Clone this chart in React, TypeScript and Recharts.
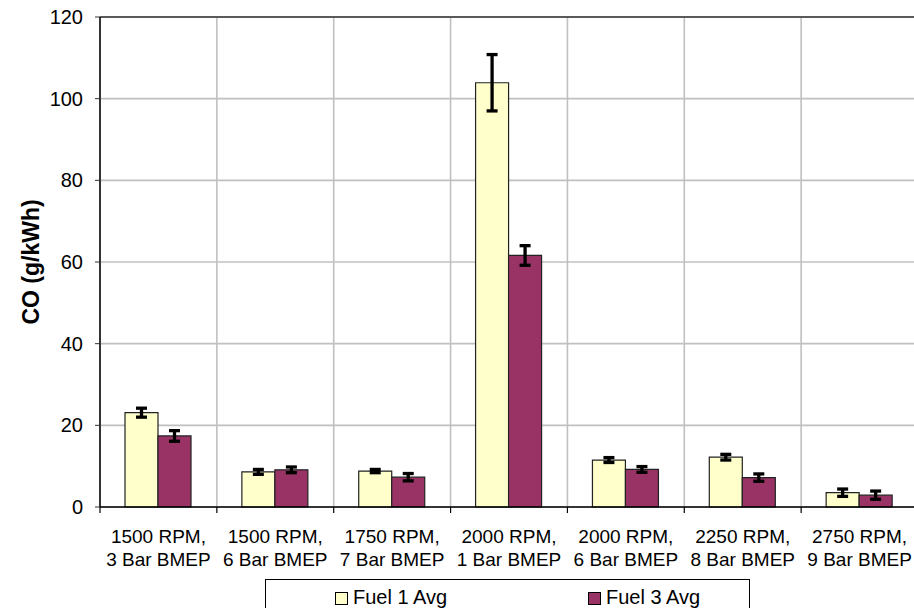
import React from 'react';
import { BarChart, Bar, XAxis, YAxis, CartesianGrid, ErrorBar, ReferenceLine } from 'recharts';

const catLine1 = ['1500 RPM,', '1500 RPM,', '1750 RPM,', '2000 RPM,', '2000 RPM,', '2250 RPM,', '2750 RPM,'];
const catLine2 = ['3 Bar BMEP', '6 Bar BMEP', '7 Bar BMEP', '1 Bar BMEP', '6 Bar BMEP', '8 Bar BMEP', '9 Bar BMEP'];
const fuel1Avg = [23.1, 8.6, 8.8, 103.9, 11.5, 12.2, 3.5];
const fuel1Err = [1.1, 0.6, 0.4, 6.9, 0.6, 0.7, 0.9];
const fuel3Avg = [17.4, 9.1, 7.3, 61.6, 9.2, 7.2, 2.9];
const fuel3Err = [1.3, 0.7, 0.9, 2.4, 0.7, 0.9, 1.0];
const yTicks = [0, 20, 40, 60, 80, 100, 120];
const seriesNames = ['Fuel 1 Avg', 'Fuel 3 Avg'];
const seriesColors = ['#FFFFCC', '#993366'];
const yLabel = 'CO (g/kWh)';

const data = catLine1.map((c, i) => ({
  cat: `${c} ${catLine2[i]}`,
  l1: c,
  l2: catLine2[i],
  f1: fuel1Avg[i],
  e1: fuel1Err[i],
  f3: fuel3Avg[i],
  e3: fuel3Err[i],
}));

const FONT = '"Liberation Sans", Arial, sans-serif';
const N = data.length;

const XTick = (props: any) => {
  const { x, y, payload, index } = props;
  const half = payload && payload.offset ? payload.offset : 58.4;
  const d = data[index] || data[0];
  return (
    <g>
      <line x1={x - half} y1={y} x2={x - half} y2={y + 6} stroke="#000" strokeWidth={1.2} />
      {index === N - 1 && (
        <line x1={x + half} y1={y} x2={x + half} y2={y + 6} stroke="#000" strokeWidth={1.2} />
      )}
      <text x={x} y={y} textAnchor="middle" fontSize={19} fontFamily={FONT} fill="#000">
        <tspan x={x} dy={35.5}>{d.l1}</tspan>
        <tspan x={x} dy={23}>{d.l2}</tspan>
      </text>
    </g>
  );
};

const YLabel = (props: any) => {
  const vb = props.viewBox || { x: 0, y: 17, width: 100, height: 490 };
  const cx = vb.x + 31;
  const cy = vb.y + vb.height / 2;
  return (
    <text
      x={cx}
      y={cy}
      transform={`rotate(-90 ${cx} ${cy})`}
      textAnchor="middle"
      dominantBaseline="central"
      fontSize={23}
      fontWeight="bold"
      fontFamily={FONT}
      fill="#000"
    >
      {yLabel}
    </text>
  );
};

const LegendBox = () => (
  <div
    style={{
      position: 'absolute',
      left: 265,
      top: 579,
      width: 485,
      height: 44,
      border: '1px solid #000',
      boxSizing: 'border-box',
      background: '#fff',
      fontFamily: FONT,
      fontSize: 20,
      color: '#000',
    }}
  >
    {seriesNames.map((name, i) => (
      <div
        key={name}
        style={{ position: 'absolute', left: i === 0 ? 69 : 322, top: 7, display: 'flex', alignItems: 'center', lineHeight: '20px', whiteSpace: 'nowrap' }}
      >
        <span
          style={{
            display: 'inline-block',
            width: 13,
            height: 13,
            background: seriesColors[i],
            border: '1px solid #000',
            boxSizing: 'border-box',
            marginRight: 5,
            marginTop: 2,
          }}
        />
        <span>{name}</span>
      </div>
    ))}
  </div>
);

export default function App() {
  return (
    <div style={{ position: 'absolute', left: 0, top: 0, width: 914, height: 608, overflow: 'hidden', background: '#fff', fontFamily: FONT }}>
      <BarChart
        width={920}
        height={608}
        data={data}
        margin={{ top: 17, right: 2, bottom: 0, left: 0 }}
        barCategoryGap="21.4%"
        barGap={0}
      >
        <CartesianGrid
          stroke="#C0C0C0"
          strokeWidth={1.6}
          verticalCoordinatesGenerator={({ offset }: any) =>
            Array.from({ length: N + 1 }, (_, i) => offset.left + (i * offset.width) / N)
          }
        />
        <XAxis
          dataKey="cat"
          interval={0}
          tickLine={false}
          tickSize={0}
          tickMargin={0}
          axisLine={{ stroke: '#000', strokeWidth: 1.5 }}
          tick={<XTick />}
          height={101}
        />
        <YAxis
          width={100}
          domain={[0, 120]}
          ticks={yTicks}
          interval={0}
          tickSize={5}
          tickMargin={12}
          tickLine={{ stroke: '#333' }}
          axisLine={{ stroke: '#000', strokeWidth: 1.5 }}
          tick={{ fill: '#000', fontSize: 20, fontFamily: FONT }}
          label={<YLabel />}
        />
        <ReferenceLine y={120} stroke="#333" strokeWidth={1.5} />
        <Bar dataKey="f1" name={seriesNames[0]} fill={seriesColors[0]} stroke="#222" strokeWidth={1.2} isAnimationActive={false}>
          <ErrorBar dataKey="e1" direction="y" width={5.5} strokeWidth={3.3} stroke="#000" isAnimationActive={false} />
        </Bar>
        <Bar dataKey="f3" name={seriesNames[1]} fill={seriesColors[1]} stroke="#222" strokeWidth={1.2} isAnimationActive={false}>
          <ErrorBar dataKey="e3" direction="y" width={5.5} strokeWidth={3.3} stroke="#000" isAnimationActive={false} />
        </Bar>
      </BarChart>
      <LegendBox />
    </div>
  );
}
